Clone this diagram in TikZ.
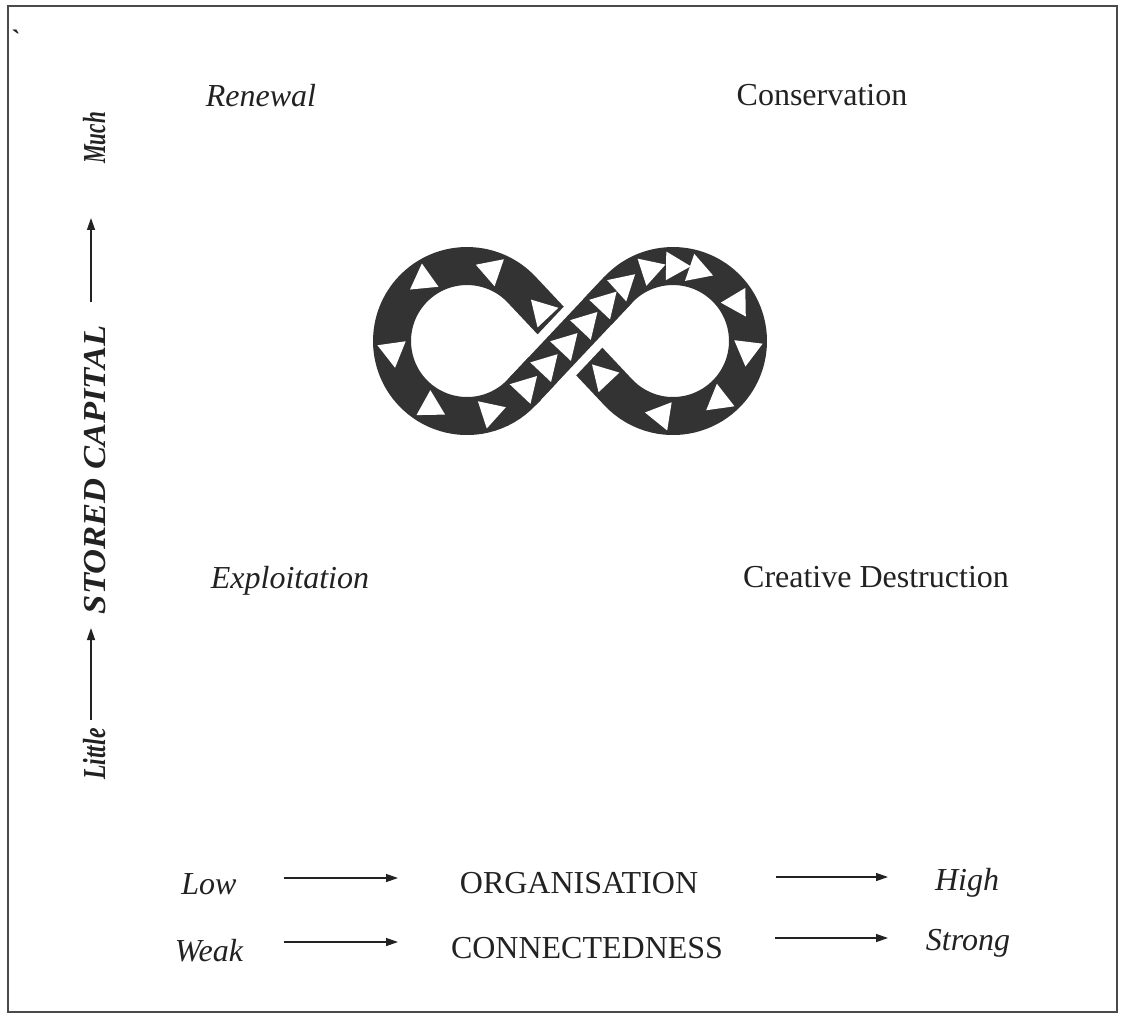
\documentclass[tikz,border=0pt]{standalone}
\usepackage{fontspec}
\setmainfont{Liberation Serif}
\usetikzlibrary{arrows.meta,calc}
\definecolor{ink}{HTML}{222222}
\definecolor{loopgray}{HTML}{333333}
\definecolor{framegray}{HTML}{4A4A4A}
% white flow triangle centred on #1, pointing in direction #2
\newcommand\flowtri[2]{\fill[white] ($(#1)+(#2:16.5)$) -- ($(#1)+(#2+120:16.5)$) -- ($(#1)+(#2+240:16.5)$) -- cycle;}

\begin{document}
\begin{tikzpicture}[x=0.75pt,y=-0.75pt,
  txt/.style={inner sep=0pt,text=ink,anchor=base,font=\fontsize{24}{28}\selectfont},
  itxt/.style={txt,font=\fontsize{24}{28}\selectfont\itshape},
  vtxt/.style={inner sep=0pt,text=ink,rotate=90,anchor=base,font=\fontsize{24}{28}\selectfont\bfseries\itshape},
  scalearrow/.style={draw=ink,line width=1pt,-{Triangle[length=9pt,width=6pt]}},
  strand/.style={draw=loopgray,line width=28.5pt},
]
\useasboundingbox (0,0) rectangle (1123,1016);
\fill[white] (0,0) rectangle (1123,1016);
\draw[framegray,line width=1.6pt] (8,6) rectangle (1117,1012);
\node[inner sep=0pt,text=ink,anchor=base,font=\fontsize{20}{20}\selectfont\bfseries] (tick) at (16,49) {\textasciigrave};

% phase labels
\node[itxt] (renewal) at (261,107) {Renewal};
\node[txt] (conservation) at (822,106) {Conservation};
\node[itxt] (exploitation) at (290,588) {Exploitation};
\node[txt] (destruction) at (876,587) {Creative Destruction};

% vertical axis
\node[vtxt] (much) at (105,138) {\scalebox{0.66}[1]{Much}};
\node[vtxt] (capital) at (105,470) {\scalebox{1.08}[1]{STORED CAPITAL}};
\node[vtxt] (little) at (105,754) {\scalebox{0.74}[1]{Little}};
\coordinate (v1s) at (91,720); \coordinate (v1e) at (91,628);
\coordinate (v2s) at (91,302); \coordinate (v2e) at (91,218);
\draw[scalearrow] (v1s) -- (v1e);
\draw[scalearrow] (v2s) -- (v2e);

% horizontal axes
\node[itxt] (low) at (209,894) {Low};
\node[txt] (org) at (579,893) {ORGANISATION};
\node[itxt] (high) at (967,890) {High};
\node[itxt] (weak) at (209,961) {Weak};
\node[txt] (conn) at (587,958) {CONNECTEDNESS};
\node[itxt] (strong) at (968,950) {Strong};
\coordinate (h1s) at (284,878); \coordinate (h1e) at (398,878);
\coordinate (h2s) at (776,877); \coordinate (h2e) at (888,877);
\coordinate (h3s) at (284,942); \coordinate (h3e) at (398,942);
\coordinate (h4s) at (775,938); \coordinate (h4e) at (888,938);
\draw[scalearrow] (h1s) -- (h1e);
\draw[scalearrow] (h2s) -- (h2e);
\draw[scalearrow] (h3s) -- (h3e);
\draw[scalearrow] (h4s) -- (h4e);

% figure-eight loop
\coordinate (cl) at (467,341);
\coordinate (cr) at (673,341);
\coordinate (cross) at (570,341);
\coordinate (tl) at (521.6,289.6);
\coordinate (bl) at (521.6,392.4);
\coordinate (tr) at (618.4,289.6);
\coordinate (br) at (618.4,392.4);
\draw[strand] (bl) -- (tr) arc[start angle=-136.7,end angle=136.7,radius=75]
  -- (tl) arc[start angle=-43.3,end angle=-316.7,radius=75] -- cycle;
% the back strand passes under the front one
\draw[white,line width=42pt] ($(cross)+(133.3:40)$) -- ($(cross)+(-46.7:40)$);
\draw[strand] (bl) -- (tr);

% flow marks: front strand
\foreach \s in {6,36,65,94,122}{
  \coordinate (p) at ($(bl)+(-46.7:\s)$);
  \flowtri{p}{-46.7}
}
% right loop, clockwise
\foreach \f in {-132,-108,-89,-71,-31,7,52,99}{
  \coordinate (p) at ($(cr)+(\f:75)$);
  \flowtri{p}{\f+90}
}
% back strand
\foreach \s in {22,111}{
  \coordinate (p) at ($(br)+(-133.3:\s)$);
  \flowtri{p}{-133.3}
}
% left loop, anticlockwise
\foreach \f in {-71,-125.5,-188,-241,-288}{
  \coordinate (p) at ($(cl)+(\f:75)$);
  \flowtri{p}{\f-90}
}
\end{tikzpicture}
\end{document}
